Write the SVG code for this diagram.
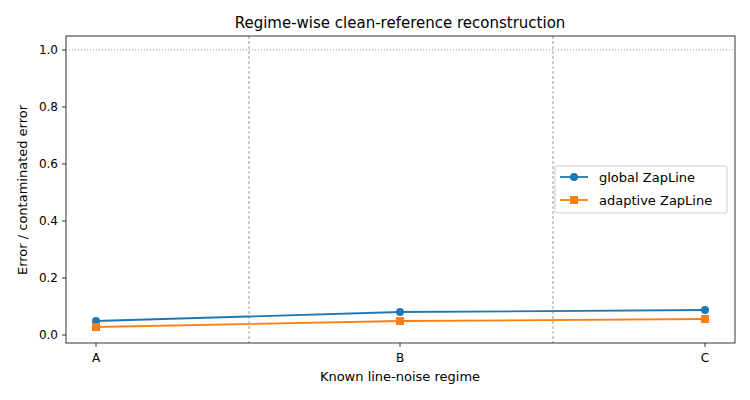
<svg xmlns="http://www.w3.org/2000/svg" width="750" height="400" viewBox="0 0 750 400">
<style>
text{font-family:"DejaVu Sans",sans-serif;font-size:13px;fill:#000}
.t{font-size:12px}
.tick{stroke:#000;stroke-width:0.8}
</style>
<rect width="750" height="400" fill="#fff"/>
<g id="axes">
<line x1="66" y1="50" x2="735" y2="50" stroke="#808080" stroke-width="0.8" stroke-dasharray="1,2"/>
<line x1="249" y1="36" x2="249" y2="343" stroke="#808080" stroke-width="0.8" stroke-dasharray="3,2"/>
<line x1="553" y1="36" x2="553" y2="343" stroke="#808080" stroke-width="0.8" stroke-dasharray="3,2"/>
<rect x="66" y="36" width="669" height="307" fill="none" stroke="#000" stroke-width="0.8"/>
<g class="tick">
<line x1="62" y1="335" x2="66" y2="335"/><line x1="62" y1="278" x2="66" y2="278"/><line x1="62" y1="221" x2="66" y2="221"/><line x1="62" y1="164" x2="66" y2="164"/><line x1="62" y1="107" x2="66" y2="107"/><line x1="62" y1="50" x2="66" y2="50"/>
<line x1="96" y1="343" x2="96" y2="347"/><line x1="400" y1="343" x2="400" y2="347"/><line x1="705" y1="343" x2="705" y2="347"/>
</g>
<g class="t" text-anchor="end">
<text class="t" x="58" y="339">0.0</text><text class="t" x="58" y="282">0.2</text><text class="t" x="58" y="225">0.4</text><text class="t" x="58" y="168">0.6</text><text class="t" x="58" y="111">0.8</text><text class="t" x="58" y="54">1.0</text>
</g>
<text class="t" x="96" y="362" text-anchor="middle">A</text>
<text class="t" x="400" y="362" text-anchor="middle">B</text>
<text class="t" x="705" y="362" text-anchor="middle">C</text>
<text x="400" y="381" text-anchor="middle">Known line-noise regime</text>
<text x="27" y="190" text-anchor="middle" transform="rotate(-90 27 190)">Error / contaminated error</text>
<text x="400" y="28" text-anchor="middle" style="font-size:15px">Regime-wise clean-reference reconstruction</text>
</g>
<g id="connectors">
<polyline points="96,321 400,312 705,310" fill="none" stroke="#1f77b4" stroke-width="1.8"/>
<polyline points="96,327 400,321 705,319" fill="none" stroke="#ff7f0e" stroke-width="1.8"/>
</g>
<g id="markers">
<circle cx="96" cy="321" r="4" fill="#1f77b4"/><circle cx="400" cy="312" r="4" fill="#1f77b4"/><circle cx="705" cy="310" r="4" fill="#1f77b4"/>
<rect x="92" y="323" width="8" height="8" fill="#ff7f0e"/><rect x="396" y="317" width="8" height="8" fill="#ff7f0e"/><rect x="701" y="315" width="8" height="8" fill="#ff7f0e"/>
</g>
<g id="legend">
<rect x="555" y="166" width="172" height="47" rx="2" fill="#fff" fill-opacity="0.8" stroke="#ccc"/>
<line x1="560" y1="177" x2="588" y2="177" stroke="#1f77b4" stroke-width="1.8"/><circle cx="574" cy="177" r="4" fill="#1f77b4"/>
<text x="599" y="182">global ZapLine</text>
<line x1="560" y1="200" x2="588" y2="200" stroke="#ff7f0e" stroke-width="1.8"/><rect x="570" y="196" width="8" height="8" fill="#ff7f0e"/>
<text x="599" y="205">adaptive ZapLine</text>
</g>
</svg>
